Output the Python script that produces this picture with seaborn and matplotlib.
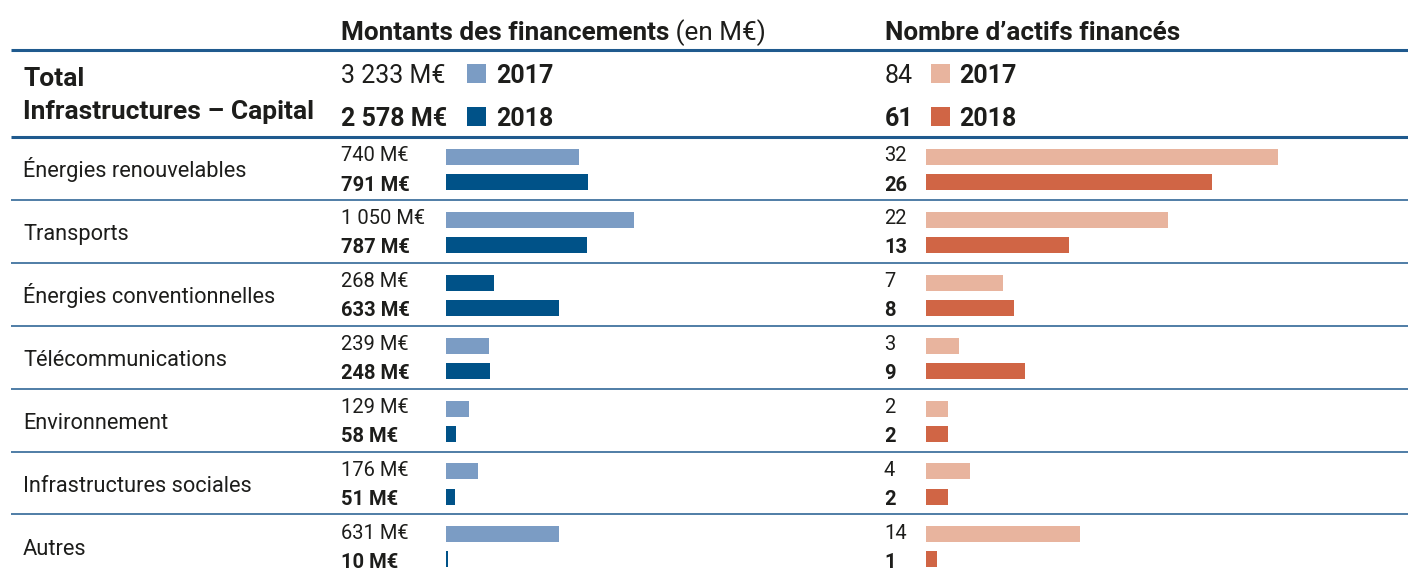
import matplotlib
matplotlib.use("Agg")
import matplotlib.pyplot as plt
from matplotlib.patches import Rectangle
from matplotlib.transforms import blended_transform_factory, offset_copy
import numpy as np
import pandas as pd
import seaborn as sns

# ---- data -------------------------------------------------------------
categories = [
    "Énergies renouvelables",
    "Transports",
    "Énergies conventionnelles",
    "Télécommunications",
    "Environnement",
    "Infrastructures sociales",
    "Autres",
]
years = ["2017", "2018"]
montants_2017 = [740, 1050, 268, 239, 129, 176, 631]   # M€
montants_2018 = [791, 787, 633, 248, 58, 51, 10]       # M€
actifs_2017 = [32, 22, 7, 3, 2, 4, 14]
actifs_2018 = [26, 13, 8, 9, 2, 2, 1]

header_montants = "Montants des financements"
header_montants_unit = " (en M€)"
header_actifs = "Nombre d’actifs financés"
total_title = ["Total", "Infrastructures – Capital"]

# ---- style ------------------------------------------------------------
sns.set_style("white")
plt.rcParams["font.family"] = ["Roboto", "DejaVu Sans"]

TEXT = "#1d1d1b"
BLUE_LIGHT = "#7b9cc4"
BLUE_DARK = "#005288"
SALMON_LIGHT = "#e8b49e"
SALMON_DARK = "#d06545"
RULE = "#1f5a8e"

W, H, DPI = 1408, 570, 100
fig = plt.figure(figsize=(W / DPI, H / DPI), dpi=DPI)
fig.patch.set_facecolor("white")

# background axes in pixel units (y downwards) for rules and headers
bg = fig.add_axes([0, 0, 1, 1])
bg.set_xlim(0, W)
bg.set_ylim(H, 0)
bg.set_axis_off()

ROW_TOP = 137.0
ROW_H = 62.9
n = len(categories)

# table rules
bg.plot([11, W], [50, 50], color=RULE, lw=2.2, solid_capstyle="butt")
bg.plot([11, W], [ROW_TOP, ROW_TOP], color=RULE, lw=2.2, solid_capstyle="butt")
for i in range(1, n):
    y = ROW_TOP + i * ROW_H
    bg.plot([11, W], [y, y], color=RULE, lw=1.1, solid_capstyle="butt")

# column headers
HEAD_FS = 18.8
renderer = fig.canvas.get_renderer()
h1 = bg.text(341, 40, header_montants, fontsize=HEAD_FS, fontweight="bold",
             color=TEXT, va="baseline", ha="left")
ext = h1.get_window_extent(renderer=renderer)
bg.text(ext.x1, 40, header_montants_unit, fontsize=HEAD_FS, color=TEXT,
        va="baseline", ha="left")
bg.text(885, 40, header_actifs, fontsize=HEAD_FS, fontweight="bold",
        color=TEXT, va="baseline", ha="left")

# totals block
bg.text(23, 86, total_title[0], fontsize=19, fontweight="bold",
        color=TEXT, va="baseline")
bg.text(23, 119, total_title[1], fontsize=19, fontweight="bold",
        color=TEXT, va="baseline")


def fmt_meur(v):
    return f"{v:,}".replace(",", " ") + " M€"


totals = [
    (341, 467, 496, [sum(montants_2017), sum(montants_2018)], fmt_meur,
     [BLUE_LIGHT, BLUE_DARK]),
    (885, 931, 959, [sum(actifs_2017), sum(actifs_2018)], str,
     [SALMON_LIGHT, SALMON_DARK]),
]
for x_val, x_sq, x_year, vals, fmt, cols in totals:
    for k, (base, weight) in enumerate([(83, "normal"), (126, "bold")]):
        bg.text(x_val, base, fmt(vals[k]), fontsize=18, fontweight=weight,
                color=TEXT, va="baseline")
        bg.add_patch(Rectangle((x_sq, base - 19), 19, 19, color=cols[k], lw=0))
        bg.text(x_year, base, years[k], fontsize=18, fontweight="bold",
                color=TEXT, va="baseline")

# ---- bar panels ---------------------------------------------------------
PX_PER_MEUR = 0.1793
PX_PER_ASSET = 11.0


def panel_rect(x0, width_px):
    bottom = ROW_TOP + n * ROW_H
    return [x0 / W, 1 - bottom / H, width_px / W, n * ROW_H / H]


def long_frame(v17, v18):
    return pd.DataFrame({
        "catégorie": categories * 2,
        "année": [years[0]] * n + [years[1]] * n,
        "valeur": list(v17) + list(v18),
    })


panels = [
    dict(x0=446, width=440, scale=PX_PER_MEUR, v17=montants_2017,
         v18=montants_2018, pal=[BLUE_LIGHT, BLUE_DARK], fmt=fmt_meur,
         label_x=341),
    dict(x0=926, width=440, scale=PX_PER_ASSET, v17=actifs_2017,
         v18=actifs_2018, pal=[SALMON_LIGHT, SALMON_DARK], fmt=str,
         label_x=884),
]

axes = []
for p in panels:
    ax = fig.add_axes(panel_rect(p["x0"], p["width"]))
    ax.patch.set_alpha(0)
    sns.barplot(data=long_frame(p["v17"], p["v18"]), x="valeur", y="catégorie",
                hue="année", orient="h", palette=p["pal"], width=0.795,
                gap=0.36, saturation=1, legend=False, errorbar=None,
                linewidth=0, ax=ax)
    ax.set_xlim(0, p["width"] / p["scale"])
    ax.set_ylim(n - 0.5 - 0.0167, -0.5 - 0.0167)
    ax.set_axis_off()

    trans = blended_transform_factory(fig.transFigure, ax.transData)
    for k, (container, vals) in enumerate(zip(ax.containers, [p["v17"], p["v18"]])):
        weight = "normal" if k == 0 else "bold"
        drop = 4.5 if k == 0 else 8.5
        t = offset_copy(trans, fig=fig, y=-drop, units="dots")
        for bar, v in zip(container, vals):
            yc = bar.get_y() + bar.get_height() / 2
            ax.text(p["label_x"] / W, yc, p["fmt"](v), transform=t,
                    fontsize=14.5, fontweight=weight, color=TEXT,
                    va="baseline", ha="left", clip_on=False)
    axes.append(ax)

# the conventional-energy 2017 bar is printed in the darker blue
axes[0].containers[0][2].set_facecolor(BLUE_DARK)

# category labels
ax = axes[0]
t_cat = offset_copy(blended_transform_factory(fig.transFigure, ax.transData),
                    fig=fig, y=-7.8, units="dots")
for i, c in enumerate(categories):
    ax.text(23 / W, i, c, transform=t_cat, fontsize=15.7, color=TEXT,
            va="baseline", ha="left", clip_on=False)

fig.savefig("out.png", dpi=DPI, facecolor="white")
